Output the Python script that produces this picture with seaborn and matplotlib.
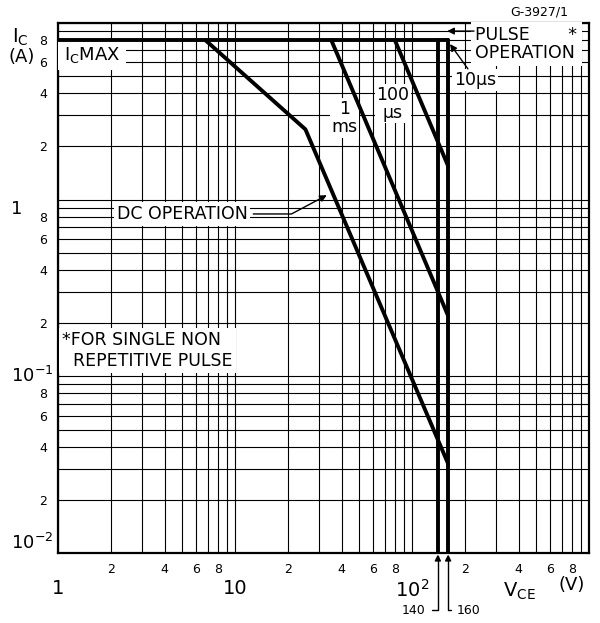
import pandas as pd
import matplotlib
matplotlib.use('Agg')
import matplotlib.pyplot as plt
import matplotlib.ticker as mticker
import seaborn as sns

# Safe operating area limits: V_CE (V), I_C (A)
icmax_v = [1, 160]
icmax_i = [8, 8]
dc_v = [6.8, 25, 160]
dc_i = [8, 2.5, 0.032]
ms1_v = [35, 160]
ms1_i = [8, 0.22]
us100_v = [80, 160]
us100_i = [8, 1.55]
v140_v = [140, 140]
v160_v = [160, 160]
vlim_i = [0.01, 8]

# axis ticks
x_major = [1, 10, 100, 1000]
x_major_labels = ['1', '10', '10$^2$', '']
y_major = [0.01, 0.1, 1, 10]
y_major_labels = ['10$^{-2}$', '10$^{-1}$', '1', '']
minor_steps = [2, 3, 4, 5, 6, 7, 8, 9]
minor_labelled = [2, 4, 6, 8]

# one long table, one unit per drawn line
parts = [('icmax', icmax_v, icmax_i), ('dc', dc_v, dc_i), ('1ms', ms1_v, ms1_i),
         ('100us', us100_v, us100_i), ('v140', v140_v, vlim_i), ('v160', v160_v, vlim_i)]
rows = []
for name, vs, cs in parts:
    for v, c in zip(vs, cs):
        rows.append({'curve': name, 'VCE': v, 'IC': c})
data = pd.DataFrame(rows)

sns.set_style('white')
plt.rcParams['font.family'] = ['DejaVu Sans']
plt.rcParams['mathtext.default'] = 'regular'
plt.rcParams['text.color'] = 'black'
plt.rcParams['xtick.color'] = 'black'
plt.rcParams['ytick.color'] = 'black'
plt.rcParams['axes.labelcolor'] = 'black'

fig = plt.figure(figsize=(6, 6.23), dpi=100)
ax = fig.add_axes([58 / 600, 1 - 553 / 623, 531 / 600, 530 / 623])

sns.lineplot(ax=ax, data=data, x='VCE', y='IC', units='curve', estimator=None,
             sort=False, color='black', linewidth=2.8, legend=False, zorder=4)

ax.set_xscale('log')
ax.set_yscale('log')
ax.set_xlim(1, 1000)
ax.set_ylim(0.01, 10)
ax.set_xlabel('')
ax.set_ylabel('')

# grid of a log paper
minor_x = [d * m for d in [1, 10, 100] for m in minor_steps]
minor_y = [d * m for d in [0.01, 0.1, 1] for m in minor_steps]
ax.xaxis.set_major_locator(mticker.FixedLocator(x_major))
ax.xaxis.set_major_formatter(mticker.FixedFormatter(x_major_labels))
ax.xaxis.set_minor_locator(mticker.FixedLocator(minor_x))
ax.yaxis.set_major_locator(mticker.FixedLocator(y_major))
ax.yaxis.set_major_formatter(mticker.NullFormatter())
ax.yaxis.set_minor_locator(mticker.FixedLocator(minor_y))


def minor_fmt(val, pos):
    m = round(val / 10 ** int(f'{val:e}'.split('e')[1]))
    return str(m) if m in minor_labelled else ''


ax.xaxis.set_minor_formatter(mticker.FuncFormatter(minor_fmt))
ax.yaxis.set_minor_formatter(mticker.FuncFormatter(minor_fmt))
ax.grid(True, which='both', color='black', linewidth=0.8)
ax.set_axisbelow(True)
ax.tick_params(which='both', length=0, labelcolor='black')
ax.tick_params(axis='x', which='minor', pad=7, labelsize=9)
ax.tick_params(axis='x', which='major', pad=19, labelsize=14)
ax.tick_params(axis='y', which='minor', pad=8, labelsize=9)
for s in ax.spines.values():
    s.set_color('black')
    s.set_linewidth(1.6)

# big decade labels on the y axis, left aligned
ytr = ax.get_yaxis_transform()
for val, lab in zip(y_major, y_major_labels):
    if not lab:
        continue
    va = {0.01: 'bottom', 0.1: 'center', 1: 'top'}[val]
    ax.text(-0.088, val, lab, transform=ytr, ha='left', va=va, fontsize=13)

white = dict(facecolor='white', edgecolor='none', pad=2)
ax.text(1.08, 6.6, 'I$_C$MAX', fontsize=13, ha='left', va='center',
        bbox=dict(facecolor='white', edgecolor='none', pad=4))
ax.text(41.5, 2.9, '1\nms', fontsize=12.5, ha='center', va='center',
        linespacing=1.05, bbox=dict(facecolor='white', edgecolor='none', pad=1))
ax.text(78, 3.5, '100\nµs', fontsize=12.5, ha='center', va='center',
        linespacing=1.0, bbox=dict(facecolor='white', edgecolor='none', pad=1))
ax.text(228, 7.6, 'PULSE       *\nOPERATION', fontsize=12.5, ha='left', va='center',
        linespacing=1.0, bbox=dict(facecolor='white', edgecolor='none', pad=3))
ax.text(172, 4.75, '10µs', fontsize=12.5, ha='left', va='center',
        bbox=dict(facecolor='white', edgecolor='none', pad=1.5))
ax.annotate('', xy=(158, 9.0), xytext=(224, 9.0),
            arrowprops=dict(arrowstyle='-|>', color='black', lw=1, mutation_scale=10, shrinkA=0, shrinkB=0))
ax.annotate('', xy=(164, 7.6), xytext=(207, 5.5),
            arrowprops=dict(arrowstyle='-|>', color='black', lw=1, mutation_scale=10, shrinkA=0, shrinkB=0))
ax.annotate('DC OPERATION', xy=(33, 1.06), xytext=(2.15, 0.83), fontsize=12.5,
            ha='left', va='center', bbox=white,
            arrowprops=dict(arrowstyle='-|>', color='black', lw=1, mutation_scale=10,
                            connectionstyle='angle,angleA=0,angleB=28,rad=0', shrinkB=0))
ax.text(1.06, 0.14, '*FOR SINGLE NON\n  REPETITIVE PULSE', fontsize=12.5, ha='left',
        va='center', linespacing=1.15, bbox=dict(facecolor='white', edgecolor='none', pad=2.5))

# voltage limit markers under the axis
ax.annotate('140', xy=(140, 0.01), xytext=(-12, -57), textcoords='offset pixels',
            ha='right', va='center', fontsize=9, annotation_clip=False,
            arrowprops=dict(arrowstyle='-|>', color='black', lw=1, mutation_scale=9,
                            connectionstyle='angle,angleA=0,angleB=90,rad=0', shrinkB=1))
ax.annotate('160', xy=(160, 0.01), xytext=(9, -57), textcoords='offset pixels',
            ha='left', va='center', fontsize=9, annotation_clip=False,
            arrowprops=dict(arrowstyle='-|>', color='black', lw=1, mutation_scale=9,
                            connectionstyle='angle,angleA=0,angleB=90,rad=0', shrinkB=1))


def px(x, y):
    return x / 600, 1 - y / 623


fig.text(*px(12, 37), 'I$_C$', fontsize=14, ha='left', va='center')
fig.text(*px(9, 57), '(A)', fontsize=13, ha='left', va='center')
fig.text(*px(503, 591), 'V$_{CE}$', fontsize=14, ha='left', va='center')
fig.text(*px(558, 585), '(V)', fontsize=13, ha='left', va='center')
fig.text(*px(510, 12), 'G-3927/1', fontsize=9, ha='left', va='center')

fig.savefig('out.png', dpi=100, facecolor='white')
